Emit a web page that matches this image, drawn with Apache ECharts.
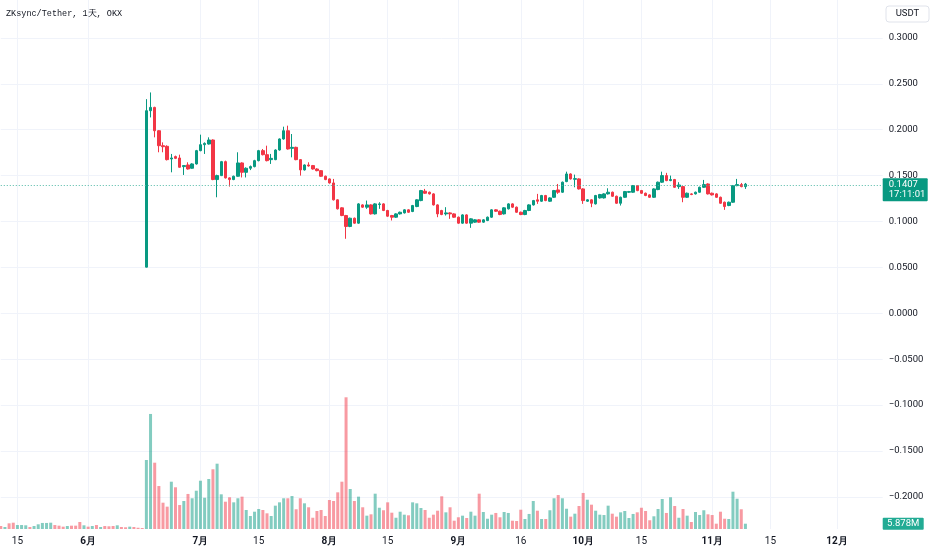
<!DOCTYPE html>
<html><head><meta charset="utf-8">
<script src="https://cdn.jsdelivr.net/npm/echarts/dist/echarts.min.js"></script>
<style>html,body{margin:0;padding:0;background:#fff}#c{width:932px;height:550px}</style>
</head><body><div id="c"></div><script>
// ---- data ----
const tickIndex = [4, 21, 48, 62, 79, 93, 110, 125, 140, 154, 171, 185, 201];
const tickLabels = ['15','6月','7月','15','8月','15','9月','16','10月','15','11月','15','12月'];
const totalSlots = 213;
const candleStart = 35;
const titleText = 'ZKsync/Tether, 1天, OKX';
const lastPrice = 0.1407, countdown = '17:11:01', lastVolumeLabel = '5.878M';

const opens = [
0.0503,0.2207,0.2243,0.1989,0.1826,0.1819,0.1681,0.1707,0.1692,0.1598,
0.1616,0.1580,0.1627,0.1772,0.1837,0.1844,0.1888,0.1457,0.1500,0.1652,
0.1475,0.1457,0.1493,0.1638,0.1536,0.1580,0.1598,0.1663,0.1772,0.1728,
0.1674,0.1674,0.1779,0.1899,0.1989,0.1797,0.1808,0.1674,0.1562,0.1616,
0.1609,0.1572,0.1554,0.1493,0.1464,0.1420,0.1236,0.1149,0.1065,0.0946,
0.1036,0.0982,0.1181,0.1156,0.1181,0.1083,0.1185,0.1192,0.1120,0.1065,
0.1047,0.1083,0.1094,0.1127,0.1109,0.1163,0.1228,0.1330,0.1319,0.1301,
0.1181,0.1120,0.1083,0.1094,0.1083,0.1047,0.0982,0.1072,0.0982,0.0993,
0.1018,0.0993,0.1011,0.1047,0.1127,0.1112,0.1083,0.1138,0.1192,0.1156,
0.1101,0.1076,0.1120,0.1181,0.1236,0.1221,0.1283,0.1221,0.1264,0.1344,
0.1319,0.1435,0.1518,0.1460,0.1464,0.1355,0.1221,0.1236,0.1192,0.1257,
0.1257,0.1301,0.1319,0.1275,0.1199,0.1264,0.1319,0.1319,0.1391,0.1337,
0.1308,0.1290,0.1264,0.1348,0.1428,0.1500,0.1446,0.1457,0.1380,0.1380,
0.1264,0.1301,0.1301,0.1319,0.1373,0.1409,0.1308,0.1301,0.1264,0.1210,
0.1174,0.1210,0.1391,0.1402,0.1380];
const closes = [
0.2207,0.2243,0.1989,0.1826,0.1815,0.1674,0.1692,0.1688,0.1591,0.1609,
0.1572,0.1627,0.1772,0.1837,0.1851,0.1888,0.1457,0.1500,0.1652,0.1475,
0.1457,0.1493,0.1638,0.1536,0.1580,0.1598,0.1663,0.1772,0.1728,0.1663,
0.1688,0.1779,0.1899,0.1989,0.1790,0.1808,0.1674,0.1562,0.1616,0.1605,
0.1572,0.1554,0.1493,0.1457,0.1420,0.1236,0.1138,0.1065,0.0946,0.1036,
0.0982,0.1192,0.1156,0.1181,0.1083,0.1192,0.1192,0.1120,0.1058,0.1047,
0.1083,0.1101,0.1127,0.1101,0.1174,0.1236,0.1337,0.1308,0.1301,0.1181,
0.1083,0.1076,0.1094,0.1083,0.1047,0.0982,0.1072,0.0982,0.1029,0.1018,
0.0993,0.1018,0.1047,0.1127,0.1112,0.1076,0.1149,0.1192,0.1156,0.1101,
0.1076,0.1120,0.1181,0.1228,0.1221,0.1283,0.1228,0.1257,0.1337,0.1319,
0.1428,0.1518,0.1464,0.1467,0.1355,0.1228,0.1236,0.1199,0.1283,0.1294,
0.1301,0.1319,0.1275,0.1199,0.1264,0.1326,0.1326,0.1391,0.1337,0.1308,
0.1283,0.1264,0.1355,0.1428,0.1500,0.1446,0.1457,0.1373,0.1398,0.1264,
0.1308,0.1294,0.1319,0.1373,0.1402,0.1301,0.1290,0.1264,0.1199,0.1163,
0.1210,0.1391,0.1402,0.1380,0.1407];
const lows = [
0.0500,0.2134,0.1917,0.1754,0.1754,0.1665,0.1536,0.1680,0.1585,0.1507,
0.1565,0.1575,0.1620,0.1765,0.1736,0.1838,0.1450,0.1264,0.1495,0.1468,
0.1380,0.1450,0.1488,0.1480,0.1480,0.1560,0.1590,0.1655,0.1720,0.1655,
0.1627,0.1668,0.1772,0.1892,0.1783,0.1699,0.1667,0.1500,0.1555,0.1598,
0.1565,0.1547,0.1486,0.1450,0.1413,0.1229,0.1131,0.1058,0.0812,0.0938,
0.0975,0.0975,0.1149,0.1138,0.1076,0.1076,0.1138,0.1113,0.1051,0.1011,
0.1040,0.1076,0.1087,0.1094,0.1102,0.1156,0.1221,0.1301,0.1294,0.1174,
0.1047,0.1069,0.1065,0.1029,0.1040,0.0975,0.0975,0.0975,0.0931,0.0986,
0.0986,0.0986,0.1004,0.1040,0.1105,0.1069,0.1076,0.1131,0.1149,0.1094,
0.1069,0.1069,0.1113,0.1174,0.1192,0.1214,0.1221,0.1214,0.1257,0.1301,
0.1312,0.1428,0.1457,0.1373,0.1348,0.1192,0.1214,0.1156,0.1185,0.1250,
0.1250,0.1294,0.1268,0.1192,0.1174,0.1257,0.1312,0.1312,0.1330,0.1301,
0.1276,0.1257,0.1257,0.1341,0.1421,0.1439,0.1439,0.1366,0.1355,0.1210,
0.1257,0.1287,0.1294,0.1312,0.1366,0.1294,0.1283,0.1257,0.1192,0.1127,
0.1167,0.1203,0.1384,0.1373,0.1355];
const highs = [
0.2333,0.2406,0.2250,0.1995,0.1862,0.1830,0.1736,0.1718,0.1728,0.1615,
0.1645,0.1635,0.1780,0.1946,0.1862,0.1917,0.1895,0.1510,0.1660,0.1663,
0.1482,0.1500,0.1754,0.1645,0.1590,0.1610,0.1672,0.1780,0.1790,0.1826,
0.1736,0.1786,0.1905,0.2033,0.2044,0.1953,0.1815,0.1680,0.1622,0.1645,
0.1616,0.1580,0.1560,0.1500,0.1470,0.1464,0.1242,0.1155,0.1072,0.1042,
0.1043,0.1200,0.1188,0.1228,0.1188,0.1200,0.1210,0.1199,0.1127,0.1072,
0.1090,0.1108,0.1134,0.1134,0.1181,0.1243,0.1344,0.1355,0.1326,0.1308,
0.1188,0.1127,0.1156,0.1101,0.1090,0.1054,0.1079,0.1079,0.1036,0.1025,
0.1025,0.1025,0.1054,0.1134,0.1134,0.1119,0.1156,0.1199,0.1199,0.1163,
0.1108,0.1127,0.1188,0.1235,0.1301,0.1290,0.1290,0.1264,0.1344,0.1409,
0.1435,0.1543,0.1525,0.1511,0.1471,0.1362,0.1243,0.1243,0.1290,0.1301,
0.1308,0.1362,0.1326,0.1282,0.1271,0.1333,0.1333,0.1398,0.1398,0.1344,
0.1315,0.1297,0.1362,0.1435,0.1543,0.1530,0.1500,0.1464,0.1428,0.1387,
0.1315,0.1308,0.1326,0.1380,0.1453,0.1416,0.1315,0.1308,0.1271,0.1217,
0.1217,0.1398,0.1464,0.1420,0.1420];

// volume in millions, one per day slot from slot 0
const volumes = [
3.3,2.2,6.3,7.0,4.4,4.4,4.1,2.2,3.3,5.2,6.7,6.7,7.0,4.4,3.7,2.6,3.3,3.7,3.7,7.8,
4.1,2.6,3.3,4.4,2.2,3.3,3.0,3.3,4.1,2.2,1.9,2.6,2.2,1.4,1.1,
76.6,127.7,73.6,47.7,29.2,24.8,52.5,46.3,26.6,31.1,38.9,34.1,42.5,53.6,34.7,55.5,
66.3,72.5,38.5,30.3,35.2,29.6,34.1,35.9,21.1,14.4,19.2,22.2,21.1,17.4,14.4,25.9,
29.6,34.1,34.1,36.6,21.9,34.1,28.5,24.1,12.5,20.0,21.1,14.4,32.2,31.1,40.7,52.5,
146.2,44.4,31.1,35.9,
24.1,14.8,16.3,39.2,23.6,20.8,29.6,18.1,12.5,19.2,15.9,15.2,29.6,28.5,23.3,21.1,
12.5,15.9,20.3,36.3,18.5,24.1,
9.2,13.0,14.8,12.2,19.2,14.8,39.2,18.9,11.4,15.9,17.8,13.0,18.9,17.8,9.2,8.9,21.4,
11.1,16.7,31.1,20.3,11.1,11.1,20.8,34.1,37.7,34.1,22.5,13.7,17.0,25.5,40.0,32.5,
27.0,20.3,15.9,15.5,25.9,17.0,13.7,18.5,20.0,12.2,16.7,18.5,23.6,20.0,9.7,14.1,
22.2,33.3,17.8,35.2,25.5,12.5,22.2,14.8,7.8,18.9,15.5,20.8,16.3,15.5,5.9,19.2,
11.4,11.1,41.4,33.6,21.9,5.878];
// direction of pre-listing volume bars (1 = up, 0 = down)
const preMarketUp = [0,1,0,0,1,1,1,0,1,1,1,1,1,0,0,0,1,0,0,0,1,0,1,0,1,0,0,0,1,0,0,1,0,0,0];

// ---- styles ----
const UP = '#089981', DOWN = '#F23645';
const UP_V = 'rgba(8,153,129,0.5)', DOWN_V = 'rgba(242,54,69,0.5)';
const GRIDC = '#f0f3fa';
const FONT = 'Roboto, "Noto Sans", sans-serif';

const cats = [];
for (let i = 0; i < totalSlots; i++) cats.push(i);
const labelMap = {};
tickIndex.forEach((t, k) => { labelMap[t] = tickLabels[k]; });

const candleData = opens.map((o, k) => [candleStart + k, o, closes[k], lows[k], highs[k]]);
const volData = volumes.map((v, i) => {
  let up;
  if (i < candleStart) up = preMarketUp[i] === 1;
  else { const k = i - candleStart; up = closes[k] >= opens[k]; }
  return { value: [i, v], itemStyle: { color: up ? UP_V : DOWN_V } };
});

const gridLeft = 0.78, gridRight = 49.3;
const chart = echarts.init(document.getElementById('c'), null, { renderer: 'canvas' });
chart.setOption({
  animation: false,
  backgroundColor: '#ffffff',
  textStyle: { fontFamily: FONT },
  grid: [
    { left: gridLeft, right: gridRight, top: 0, bottom: 7.2 },
    { left: gridLeft, right: gridRight, top: 0, bottom: 21 }
  ],
  xAxis: [
    { type: 'category', gridIndex: 0, data: cats, boundaryGap: false, show: false },
    { type: 'category', gridIndex: 1, data: cats, boundaryGap: false,
      axisLine: { show: false }, axisTick: { show: false },
      axisLabel: {
        interval: (i) => labelMap[i] !== undefined,
        formatter: (v, i) => {
          const s = labelMap[i];
          if (s === undefined) return '';
          return s.indexOf('月') >= 0 ? '{m|' + s + '}' : '{d|' + s + '}';
        },
        margin: 7,
        rich: {
          m: { fontSize: 10, fontWeight: 'bold', color: '#131722', fontFamily: FONT },
          d: { fontSize: 10, color: '#131722', fontFamily: FONT }
        }
      },
      splitLine: { show: true, interval: (i) => labelMap[i] !== undefined, lineStyle: { color: GRIDC, width: 1 } }
    }
  ],
  yAxis: [
    { type: 'value', gridIndex: 0, position: 'right', min: -0.25, max: 0.3413, interval: 0.05,
      axisLine: { show: false }, axisTick: { show: false },
      axisLabel: {
        showMinLabel: false, showMaxLabel: false, margin: 6, align: 'left',
        color: '#131722', fontSize: 9.5, fontFamily: FONT,
        formatter: (v) => (v < -1e-9 ? '\u2212' + (-v).toFixed(4) : Math.abs(v).toFixed(4))
      },
      splitLine: { show: true, showMinLine: false, showMaxLine: false, lineStyle: { color: GRIDC, width: 1 } }
    },
    { type: 'value', gridIndex: 1, min: 0, max: 587.2, show: false, splitLine: { show: false } }
  ],
  series: [
    { type: 'bar', name: 'Volume', xAxisIndex: 1, yAxisIndex: 1, data: volData, barWidth: 3, z: 1 },
    { type: 'candlestick', name: 'ZK', xAxisIndex: 0, yAxisIndex: 0, data: candleData,
      encode: { x: 0, y: [1, 2, 3, 4] }, barWidth: 3, z: 3,
      itemStyle: { color: UP, color0: DOWN, borderColor: UP, borderColor0: DOWN, borderWidth: 1 },
      markLine: {
        silent: true, symbol: ['none', 'none'], animation: false,
        label: { show: false },
        lineStyle: { color: '#4fb8a5', type: [1, 2], width: 1 },
        data: [{ yAxis: lastPrice }]
      }
    }
  ]
});

const py = chart.convertToPixel({ yAxisIndex: 0 }, lastPrice);
const vy = chart.convertToPixel({ yAxisIndex: 1 }, volumes[volumes.length - 1]);
const tagX = 932 - gridRight;
chart.setOption({
  graphic: [
    { type: 'text', left: 6, top: 9, style: { text: titleText, font: '8.5px "Liberation Mono", monospace', fill: '#131722' } },
    { type: 'rect', shape: { x: 886, y: 6, width: 43, height: 16, r: 3 }, style: { fill: '#fff', stroke: '#e0e3eb', lineWidth: 1 } },
    { type: 'text', x: 907.5, y: 14, style: { text: 'USDT', font: '9.5px ' + FONT, fill: '#131722', align: 'center', verticalAlign: 'middle' } },
    { type: 'rect', shape: { x: tagX, y: py - 6, width: 45, height: 23, r: 1 }, style: { fill: UP } },
    { type: 'text', x: tagX + 6, y: py + 0.5, style: { text: lastPrice.toFixed(4), font: '9.5px ' + FONT, fill: '#fff', verticalAlign: 'middle' } },
    { type: 'text', x: tagX + 6, y: py + 10.5, style: { text: countdown, font: '9.5px ' + FONT, fill: '#fff', verticalAlign: 'middle' } },
    { type: 'rect', shape: { x: tagX, y: vy - 6, width: 41, height: 12, r: 1 }, style: { fill: '#22ab94' } },
    { type: 'text', x: tagX + 20.5, y: vy, style: { text: lastVolumeLabel, font: '9.5px ' + FONT, fill: '#fff', align: 'center', verticalAlign: 'middle' } }
  ]
});
</script></body></html>
